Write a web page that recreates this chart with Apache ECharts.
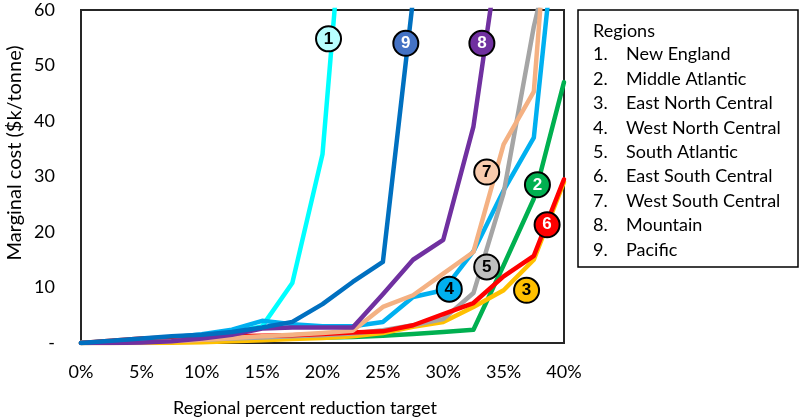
<!DOCTYPE html>
<html>
<head>
<meta charset="utf-8">
<script src="https://cdn.jsdelivr.net/npm/echarts@6/dist/echarts.min.js"></script>
<style>
html,body{margin:0;padding:0;background:#fff;}
#chart{width:800px;height:417px;}
</style>
</head>
<body>
<div id="chart"></div>
<script>
// x positions (percent reduction target)
var targets = [0, 2.5, 5, 7.5, 10, 12.5, 15, 17.5, 20, 22.5, 25, 27.5, 30, 32.5, 35, 37.5, 40];
var xTicks = ['0%','5%','10%','15%','20%','25%','30%','35%','40%'];
var regionNames = ['New England','Middle Atlantic','East North Central','West North Central','South Atlantic','East South Central','West South Central','Mountain','Pacific'];

// marginal cost ($k/tonne), one array per region
var newEngland       = [0, 0.3, 0.6, 1.0, 1.4, 2.0, 3.0, 10.8, 34, 99];
var middleAtlantic   = [0, 0.1, 0.2, 0.3, 0.5, 0.6, 0.8, 0.9, 1.0, 1.1, 1.3, 1.6, 2.0, 2.4, 14, 26, 47];
var eastNorthCentral = [0, 0, 0, 0.05, 0.15, 0.3, 0.5, 0.7, 0.9, 1.2, 1.8, 2.9, 3.8, 6.5, 9.5, 15, 29];
var westNorthCentral = [0, 0.3, 0.6, 1.0, 1.6, 2.4, 4.0, 3.4, 3.0, 3.0, 3.8, 8.3, 9.5, 16.5, 27.5, 37, 89];
var southAtlantic    = [0, 0.1, 0.2, 0.4, 0.6, 0.8, 1.0, 1.2, 1.4, 1.7, 2.3, 3.2, 4.3, 9, 27, 57, 80];
var eastSouthCentral = [0, 0.4, 0.8, 1.0, 1.1, 1.2, 1.3, 1.4, 1.6, 1.9, 2.1, 3.2, 5.2, 7.2, 12, 15.7, 29.5];
var westSouthCentral = [0, 0, 0.1, 0.3, 0.6, 0.9, 1.2, 1.5, 1.8, 2.2, 6.5, 8.6, 12.5, 16.4, 35.8, 45.3, 115];
var mountain         = [0, 0, 0.1, 0.3, 0.8, 1.5, 2.6, 2.8, 2.8, 2.8, 8.8, 15, 18.6, 39, 76.5];
var pacific          = [0, 0.4, 0.8, 1.2, 1.5, 2.0, 2.8, 3.8, 7, 11, 14.6, 62];

// numbered callout positions [x %, y $k/tonne]
var calloutX = [20.5, 37.8, 36.9, 30.5, 33.6, 38.6, 33.6, 33.2, 26.9];
var calloutY = [54.8, 28.5, 9.5, 9.7, 13.7, 21.3, 30.8, 54, 54];

var seriesValues = [newEngland, middleAtlantic, eastNorthCentral, westNorthCentral, southAtlantic, eastSouthCentral, westSouthCentral, mountain, pacific];
var lineColors = ['#00FFFF','#00B050','#FFC000','#00B0F0','#A5A5A5','#FF0000','#F4B183','#7030A0','#0070C0'];
var badgeFill  = ['#B7FFFF','#00B050','#FFC000','#00B0F0','#BFBFBF','#FF0000','#F8CBAD','#7030A0','#4472C4'];
var badgeText  = ['#000','#fff','#000','#000','#000','#fff','#000','#fff','#fff'];

var FONT = 'Lato';
var chart = echarts.init(document.getElementById('chart'), null, {renderer:'canvas'});

var series = seriesValues.map(function(vals, i){
  return {
    type:'line', name: regionNames[i], symbol:'none', clip:true,
    data: vals.map(function(v, j){ return [targets[j], v]; }),
    lineStyle:{color: lineColors[i], width:4.5, join:'round', cap:'round'},
    z: 2 + i
  };
});
series.push({
  type:'scatter', z: 20, symbolSize: 25,
  data: calloutX.map(function(x, i){
    return {value:[x, calloutY[i]], name: String(i+1),
      itemStyle:{color: badgeFill[i], borderColor:'#000', borderWidth:2, opacity:1},
      label:{color: badgeText[i]}};
  }),
  label:{show:true, position:'inside', formatter:function(p){return p.name;}, fontFamily:'Arial', fontWeight:'bold', fontSize:17}
});

var legendChildren = [
  {type:'rect', shape:{x:578, y:10, width:220, height:257}, style:{fill:'#fff', stroke:'#000', lineWidth:1.5}},
  {type:'text', x:593, y:31, style:{text:'Regions', font:'18px '+FONT, fill:'#000', verticalAlign:'middle'}}
];
regionNames.forEach(function(n, i){
  var y = 54.5 + i*24.4;
  legendChildren.push({type:'text', x:593, y:y, style:{text:(i+1)+'.', font:'18px '+FONT, fill:'#000', verticalAlign:'middle'}});
  legendChildren.push({type:'text', x:626, y:y, style:{text:n, font:'18px '+FONT, fill:'#000', verticalAlign:'middle'}});
});

chart.setOption({
  animation:false,
  grid:{left:81, right:236, top:10, bottom:74, show:true, borderColor:'#262626', borderWidth:2, backgroundColor:'#fff'},
  xAxis:{type:'value', min:0, max:40, interval:5,
    axisLine:{show:true, lineStyle:{color:'#262626', width:2}}, axisTick:{show:false}, splitLine:{show:false},
    axisLabel:{margin:20, fontFamily:FONT, fontSize:18, color:'#000',
      formatter:function(v){ return xTicks[Math.round(v/5)]; }}},
  yAxis:{type:'value', min:0, max:60, interval:10,
    axisLine:{show:true, lineStyle:{color:'#262626', width:2}}, axisTick:{show:false}, splitLine:{show:false},
    axisLabel:{margin:26, fontFamily:FONT, fontSize:18, color:'#000',
      formatter:function(v){ return v === 0 ? '-' : String(v); }}},
  graphic:[
    {type:'text', x:305, y:408, style:{text:'Regional percent reduction target', font:'18px '+FONT, fill:'#000', align:'center', verticalAlign:'middle'}},
    {type:'text', x:15, y:153, rotation:Math.PI/2, style:{text:'Marginal cost ($k/tonne)', font:'20px '+FONT, fill:'#000', align:'center', verticalAlign:'middle'}},
    {type:'group', children: legendChildren}
  ],
  series: series
});
</script>
</body>
</html>
